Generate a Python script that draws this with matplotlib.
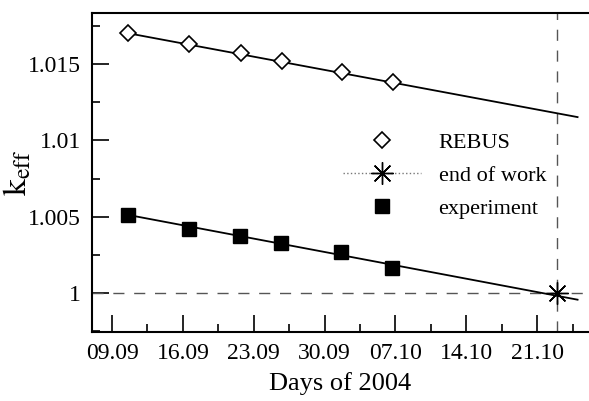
import matplotlib.pyplot as plt
from matplotlib.ticker import MultipleLocator, FixedLocator

plt.rcParams['font.family'] = ['Liberation Serif', 'DejaVu Serif']
plt.rcParams['mathtext.fontset'] = 'stix'

# days counted from 09.09.2004
tick_days = [0, 7, 14, 21, 28, 35, 42]
tick_labels = ['09.09', '16.09', '23.09', '30.09', '07.10', '14.10', '21.10']

rebus_days = [1.6, 7.6, 12.7, 16.8, 22.7, 27.8]
rebus_k = [1.01703, 1.01631, 1.01572, 1.01519, 1.01447, 1.01382]
rebus_fit_days = [1.6, 46.0]
rebus_fit_k = [1.01703, 1.01153]

exp_days = [1.6, 7.6, 12.6, 16.7, 22.6, 27.7]
exp_k = [1.00511, 1.00419, 1.00373, 1.00327, 1.00268, 1.00164]
exp_fit_days = [1.6, 46.0]
exp_fit_k = [1.00511, 0.99955]

end_day = [44.0]
end_k = [1.0]

fig = plt.figure(figsize=(5.89, 4.01), dpi=100)
ax = fig.add_axes([92 / 589, 69 / 401, 1 - 92 / 589, 319 / 401])

ax.axhline(1.0, color='#555555', lw=1.0, dashes=(8, 7))
ax.axvline(end_day[0], color='#555555', lw=1.0, dashes=(8, 7))

ax.plot(rebus_fit_days, rebus_fit_k, color='black', lw=1.3)
ax.plot(exp_fit_days, exp_fit_k, color='black', lw=1.3)

ax.plot(rebus_days, rebus_k, ls='none', marker='D', ms=8, mfc='white',
        mec='black', mew=1.2, label='REBUS')
ax.plot(end_day, end_k, color='#777777', ls=':', lw=1.0, marker=(8, 2, 0),
        ms=16, mec='black', mew=1.0, label='end of work')
ax.plot(exp_days, exp_k, ls='none', marker='s', ms=9.5, color='black',
        label='experiment')

ax.set_xlim(-1.98, 47.13)
ax.set_ylim(0.99743, 1.01836)

ax.xaxis.set_major_locator(FixedLocator(tick_days))
ax.set_xticklabels(tick_labels)
ax.xaxis.set_minor_locator(MultipleLocator(3.5))
ax.set_yticks([1.0, 1.005, 1.01, 1.015])
ax.set_yticklabels(['1', '1.005', '1.01', '1.015'])
ax.yaxis.set_minor_locator(MultipleLocator(0.0025))

ax.tick_params(which='major', direction='in', length=12, width=1.2,
               labelsize=17, top=False, right=False, pad=8)
ax.tick_params(which='minor', direction='in', length=6, width=1.2,
               top=False, right=False)

for side in ['left', 'bottom', 'top']:
    ax.spines[side].set_linewidth(1.5)
ax.spines['right'].set_visible(False)

ax.set_xlabel('Days of 2004', fontsize=19, labelpad=6)
ax.set_ylabel(r'$\mathrm{k_{eff}}$', fontsize=24)
ax.yaxis.set_label_coords(-0.118, 0.5)

ax.legend(loc='center left', bbox_to_anchor=(0.505, 0.49), frameon=False,
          fontsize=16, handlelength=3.5, handletextpad=0.8, labelspacing=0.55,
          borderpad=0, borderaxespad=0)

fig.savefig('out.png', dpi=100)
